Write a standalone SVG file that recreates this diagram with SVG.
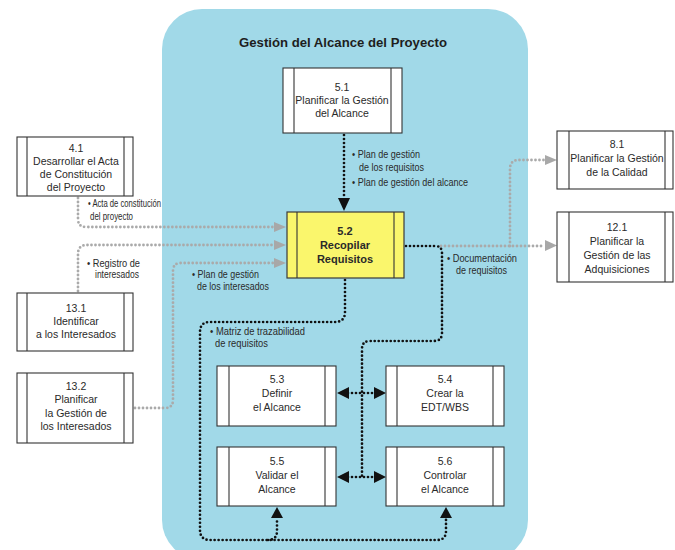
<svg xmlns="http://www.w3.org/2000/svg" width="675" height="550" viewBox="0 0 675 550">
  <style>
    .box { fill: #ffffff; stroke: #333333; stroke-width: 1.1; }
    .bar { stroke: #333333; stroke-width: 1.1; }
    .key { fill: #faf66c; stroke: #3a3a3a; stroke-width: 1.2; }
    .nt { font-family: "Liberation Sans", Arial, sans-serif; font-size: 10.5px; fill: #2a2a2a; text-anchor: middle; }
    .kt { font-family: "Liberation Sans", Arial, sans-serif; font-size: 11px; font-weight: bold; fill: #2a2a2a; text-anchor: middle; }
    .lbl { font-family: "Liberation Sans", Arial, sans-serif; font-size: 10.5px; fill: #2a2a2a; }
    .title { font-family: "Liberation Sans", Arial, sans-serif; font-size: 13.5px; font-weight: bold; fill: #1e1e1e; text-anchor: middle; }
    .dk { fill: none; stroke: #111111; stroke-width: 2.7; stroke-linecap: round; stroke-dasharray: 0 4; }
    .gr { fill: none; stroke: #aaaaaa; stroke-width: 2.8; stroke-linecap: round; stroke-dasharray: 0 4; }
    .ahk { fill: #111111; }
    .ahg { fill: #a8a8a8; }
  </style>

  <!-- process group container -->
  <rect x="162" y="9" width="366" height="551" rx="40" ry="40" fill="#a1d9e8"/>
  <text class="title" x="343" y="47" textLength="208" lengthAdjust="spacingAndGlyphs">Gestión del Alcance del Proyecto</text>

  <!-- connectors -->
  <g id="connectors">
    <!-- 5.1 to 5.2 -->
    <path class="dk" d="M344,135 V198"/>
    <polygon class="ahk" points="338,198 350,198 344,211"/>

    <!-- 4.1 to 5.2 -->
    <path class="gr" d="M78,198 V219 Q78,227 86,227 H274"/>
    <polygon class="ahg" points="274,222 274,232 286,227"/>

    <!-- 13.1 to 5.2 -->
    <path class="gr" d="M78,291 V254 Q78,245 87,245 H274"/>
    <polygon class="ahg" points="274,240 274,250 286,245"/>

    <!-- 13.2 to 5.2 -->
    <path class="gr" d="M135,408 H165 Q173,408 173,400 V271 Q173,263 181,263 H274"/>
    <polygon class="ahg" points="274,258 274,268 286,263"/>

    <!-- 5.2 outputs to 8.1 and 12.1 -->
    <path class="gr" d="M441,246 H545"/>
    <path class="gr" d="M510,246 V169 Q510,160 519,160 H545"/>
    <polygon class="ahg" points="545,240 545,251 557,245.5"/>
    <polygon class="ahg" points="545,155 545,165 557,160"/>

    <!-- 5.2 documentation down to 5.3-5.6 -->
    <path class="dk" d="M406,246 H435 Q442,246 442,253 V333 Q442,341 434,341 H370 Q362,341 362,349 V477"/>

    <!-- two-way links between 5.3/5.4 and 5.5/5.6 -->
    <path class="dk" d="M348,393 H376"/>
    <polygon class="ahk" points="337,393 349,387 349,399"/>
    <polygon class="ahk" points="386,393 374,387 374,399"/>
    <path class="dk" d="M348,477 H376"/>
    <polygon class="ahk" points="337,477 349,471 349,483"/>
    <polygon class="ahk" points="386,477 374,471 374,483"/>

    <!-- 5.2 traceability loop to 5.5 and 5.6 -->
    <path class="dk" d="M345,280 V312 Q345,322 335,322 H210 Q200,322 200,332 V530 Q200,540 210,540 H437 Q446,540 446,531 V519"/>
    <path class="dk" d="M268,540 Q277,540 277,531 V519"/>
    <polygon class="ahk" points="271,518 283,518 277,507"/>
    <polygon class="ahk" points="440,518 452,518 446,507"/>

    <!-- connector labels -->
    <text class="lbl" x="352" y="158" textLength="68" lengthAdjust="spacingAndGlyphs">• Plan de gestión</text>
    <text class="lbl" x="359" y="171" textLength="65" lengthAdjust="spacingAndGlyphs">de los requisitos</text>
    <text class="lbl" x="352" y="186" textLength="116" lengthAdjust="spacingAndGlyphs">• Plan de gestión del alcance</text>
    <text class="lbl" x="88" y="207" textLength="73" lengthAdjust="spacingAndGlyphs">• Acta de constitución</text>
    <text class="lbl" x="90" y="220" textLength="43" lengthAdjust="spacingAndGlyphs">del proyecto</text>
    <text class="lbl" x="87" y="267" textLength="53" lengthAdjust="spacingAndGlyphs">• Registro de</text>
    <text class="lbl" x="95" y="278" textLength="44" lengthAdjust="spacingAndGlyphs">interesados</text>
    <text class="lbl" x="192" y="278" textLength="67" lengthAdjust="spacingAndGlyphs">• Plan de gestión</text>
    <text class="lbl" x="197" y="290" textLength="72" lengthAdjust="spacingAndGlyphs">de los interesados</text>
    <text class="lbl" x="447" y="262" textLength="70" lengthAdjust="spacingAndGlyphs">• Documentación</text>
    <text class="lbl" x="456" y="274" textLength="51" lengthAdjust="spacingAndGlyphs">de requisitos</text>
    <text class="lbl" x="210" y="335" textLength="95" lengthAdjust="spacingAndGlyphs">• Matriz de trazabilidad</text>
    <text class="lbl" x="215" y="347" textLength="53" lengthAdjust="spacingAndGlyphs">de requisitos</text>
  </g>

  <!-- 5.1 -->
  <g id="n5_1">
    <rect class="box" x="283" y="68" width="119" height="65"/>
    <line class="bar" x1="294" y1="68" x2="294" y2="133"/>
    <line class="bar" x1="391" y1="68" x2="391" y2="133"/>
    <text class="nt" x="342" y="91">5.1</text>
    <text class="nt" x="342" y="104">Planificar la Gestión</text>
    <text class="nt" x="342" y="117">del Alcance</text>
  </g>

  <!-- 5.2 -->
  <g id="n5_2">
    <rect class="key" x="287" y="212" width="117" height="66"/>
    <line class="bar" x1="297" y1="212" x2="297" y2="278"/>
    <line class="bar" x1="394" y1="212" x2="394" y2="278"/>
    <text class="kt" x="345" y="235">5.2</text>
    <text class="kt" x="345" y="249">Recopilar</text>
    <text class="kt" x="345" y="263">Requisitos</text>
  </g>

  <!-- 4.1 -->
  <g id="n4_1">
    <rect class="box" x="17" y="137" width="116" height="59"/>
    <line class="bar" x1="27" y1="137" x2="27" y2="196"/>
    <line class="bar" x1="124" y1="137" x2="124" y2="196"/>
    <text class="nt" x="76" y="152">4.1</text>
    <text class="nt" x="76" y="165">Desarrollar el Acta</text>
    <text class="nt" x="76" y="178">de Constitución</text>
    <text class="nt" x="76" y="191">del Proyecto</text>
  </g>

  <!-- 13.1 -->
  <g id="n13_1">
    <rect class="box" x="17" y="293" width="116" height="58"/>
    <line class="bar" x1="27" y1="293" x2="27" y2="351"/>
    <line class="bar" x1="124" y1="293" x2="124" y2="351"/>
    <text class="nt" x="76" y="312">13.1</text>
    <text class="nt" x="76" y="325">Identificar</text>
    <text class="nt" x="76" y="338">a los Interesados</text>
  </g>

  <!-- 13.2 -->
  <g id="n13_2">
    <rect class="box" x="17" y="373" width="116" height="70"/>
    <line class="bar" x1="27" y1="373" x2="27" y2="443"/>
    <line class="bar" x1="124" y1="373" x2="124" y2="443"/>
    <text class="nt" x="76" y="390">13.2</text>
    <text class="nt" x="76" y="403">Planificar</text>
    <text class="nt" x="76" y="417">la Gestión de</text>
    <text class="nt" x="76" y="430">los Interesados</text>
  </g>

  <!-- 8.1 -->
  <g id="n8_1">
    <rect class="box" x="557" y="131" width="116" height="58"/>
    <line class="bar" x1="569" y1="131" x2="569" y2="189"/>
    <line class="bar" x1="665" y1="131" x2="665" y2="189"/>
    <text class="nt" x="617" y="148">8.1</text>
    <text class="nt" x="617" y="162">Planificar la Gestión</text>
    <text class="nt" x="617" y="176">de la Calidad</text>
  </g>

  <!-- 12.1 -->
  <g id="n12_1">
    <rect class="box" x="557" y="212" width="116" height="70"/>
    <line class="bar" x1="569" y1="212" x2="569" y2="282"/>
    <line class="bar" x1="665" y1="212" x2="665" y2="282"/>
    <text class="nt" x="617" y="231">12.1</text>
    <text class="nt" x="617" y="245">Planificar la</text>
    <text class="nt" x="617" y="259">Gestión de las</text>
    <text class="nt" x="617" y="273">Adquisiciones</text>
  </g>

  <!-- 5.3 -->
  <g id="n5_3">
    <rect class="box" x="217" y="366" width="119" height="60"/>
    <line class="bar" x1="229" y1="366" x2="229" y2="426"/>
    <line class="bar" x1="325" y1="366" x2="325" y2="426"/>
    <text class="nt" x="277" y="383">5.3</text>
    <text class="nt" x="277" y="397">Definir</text>
    <text class="nt" x="277" y="411">el Alcance</text>
  </g>

  <!-- 5.4 -->
  <g id="n5_4">
    <rect class="box" x="386" y="366" width="118" height="60"/>
    <line class="bar" x1="397" y1="366" x2="397" y2="426"/>
    <line class="bar" x1="493" y1="366" x2="493" y2="426"/>
    <text class="nt" x="445" y="383">5.4</text>
    <text class="nt" x="445" y="397">Crear la</text>
    <text class="nt" x="445" y="411">EDT/WBS</text>
  </g>

  <!-- 5.5 -->
  <g id="n5_5">
    <rect class="box" x="217" y="447" width="119" height="59"/>
    <line class="bar" x1="229" y1="447" x2="229" y2="506"/>
    <line class="bar" x1="325" y1="447" x2="325" y2="506"/>
    <text class="nt" x="277" y="465">5.5</text>
    <text class="nt" x="277" y="479">Validar el</text>
    <text class="nt" x="277" y="493">Alcance</text>
  </g>

  <!-- 5.6 -->
  <g id="n5_6">
    <rect class="box" x="386" y="447" width="118" height="59"/>
    <line class="bar" x1="397" y1="447" x2="397" y2="506"/>
    <line class="bar" x1="493" y1="447" x2="493" y2="506"/>
    <text class="nt" x="445" y="465">5.6</text>
    <text class="nt" x="445" y="479">Controlar</text>
    <text class="nt" x="445" y="493">el Alcance</text>
  </g>
</svg>
